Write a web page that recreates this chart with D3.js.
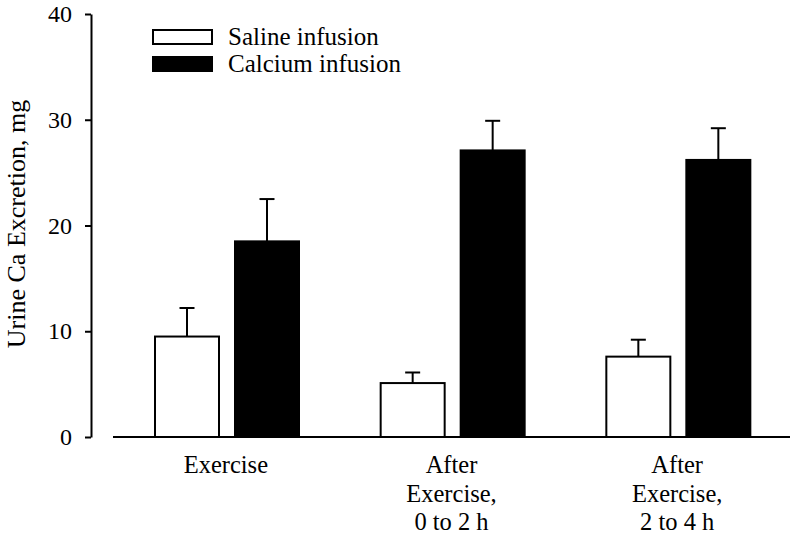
<!DOCTYPE html>
<html>
<head>
<meta charset="utf-8">
<script src="https://cdn.jsdelivr.net/npm/d3@7"></script>
<style>
  body { margin: 0; background: #fff; }
</style>
</head>
<body>
<svg id="chart" width="800" height="535"></svg>
<script>
// data begin ----------------------------------
const periods = ['Exercise', 'After Exercise, 0 to 2 h', 'After Exercise, 2 to 4 h'];
const periodLines = [['Exercise'], ['After', 'Exercise,', '0 to 2 h'], ['After', 'Exercise,', '2 to 4 h']];
const treatments = ['Saline infusion', 'Calcium infusion'];
const salineMeans = [9.5, 5.1, 7.6];
const salineSE = [2.7, 1.0, 1.6];
const calciumMeans = [18.5, 27.1, 26.2];
const calciumSE = [4.0, 2.8, 3.0];
const yTicks = [0, 10, 20, 30, 40];
const yLabel = 'Urine Ca Excretion, mg';
// data end ------------------------------------

const FONT = '"Liberation Serif", "Times New Roman", Times, serif';
const svg = d3.select('#chart');

const y = d3.scaleLinear().domain([0, 40]).range([437, 14]);
const x0 = d3.scaleBand().domain(periods).range([113, 790]).padding(0);
const x1 = d3.scaleBand().domain(treatments).range([42, 186]).paddingInner(0.2).paddingOuter(0);

const rows = [];
periods.forEach((p, i) => {
    rows.push({ period: p, treat: treatments[0], mean: salineMeans[i], se: salineSE[i] });
    rows.push({ period: p, treat: treatments[1], mean: calciumMeans[i], se: calciumSE[i] });
});
const isSaline = d => d.treat === treatments[0];

// bars
svg.append('g').attr('class', 'bars')
    .selectAll('rect').data(rows).enter().append('rect')
    .attr('x', d => x0(d.period) + x1(d.treat))
    .attr('y', d => y(d.mean))
    .attr('width', x1.bandwidth())
    .attr('height', d => y(0) - y(d.mean))
    .attr('fill', d => isSaline(d) ? '#fff' : '#000')
    .attr('stroke', '#000')
    .attr('stroke-width', 2);

// error bars (upper only)
const err = svg.append('g').attr('class', 'errors')
    .selectAll('g').data(rows).enter().append('g')
    .attr('stroke', '#000').attr('stroke-width', 2);
const cx = d => x0(d.period) + x1(d.treat) + x1.bandwidth() / 2;
err.append('line')
    .attr('x1', cx).attr('x2', cx)
    .attr('y1', d => y(d.mean)).attr('y2', d => y(d.mean + d.se));
err.append('line')
    .attr('x1', d => cx(d) - 7.5).attr('x2', d => cx(d) + 7.5)
    .attr('y1', d => y(d.mean + d.se)).attr('y2', d => y(d.mean + d.se));

// baseline
svg.append('line')
    .attr('x1', x0.range()[0]).attr('x2', x0.range()[1])
    .attr('y1', y(0)).attr('y2', y(0))
    .attr('stroke', '#000').attr('stroke-width', 2);

// y axis
const yAxis = d3.axisLeft(y).tickValues(yTicks).tickSize(6).tickSizeOuter(0).tickPadding(13);
const gy = svg.append('g').attr('class', 'y axis').attr('transform', 'translate(91,0)').call(yAxis);
gy.attr('font-family', FONT);
gy.select('.domain').attr('stroke-width', 2);
gy.selectAll('.tick line').attr('stroke-width', 2);
gy.selectAll('.tick text').style('font-family', FONT).style('font-size', '24px').attr('fill', '#000');

svg.append('text')
    .attr('transform', 'translate(25,224) rotate(-90)')
    .style('font-family', FONT)
    .style('text-anchor', 'middle').style('font-size', '26px')
    .text(yLabel);

// x category labels
svg.append('g').attr('class', 'x labels')
    .selectAll('text').data(periods).enter().append('text')
    .attr('transform', d => 'translate(' + (x0(d) + x0.bandwidth() / 2) + ',473)')
    .style('font-family', FONT)
    .style('text-anchor', 'middle').style('font-size', '24.5px')
    .selectAll('tspan').data((d, i) => periodLines[i]).enter().append('tspan')
    .attr('x', 0).attr('y', (d, j) => j * 28.5)
    .text(d => d);

// legend
const legend = svg.append('g').attr('class', 'legend')
    .selectAll('g').data(treatments).enter().append('g')
    .attr('transform', (d, i) => 'translate(153,' + (30 + i * 27) + ')');
legend.append('rect')
    .attr('width', 59).attr('height', 14)
    .attr('fill', (d, i) => i === 0 ? '#fff' : '#000')
    .attr('stroke', '#000').attr('stroke-width', 2);
legend.append('text')
    .attr('x', 75).attr('y', 15)
    .style('font-family', FONT)
    .style('font-size', '25px')
    .text(d => d);
</script>
</body>
</html>
